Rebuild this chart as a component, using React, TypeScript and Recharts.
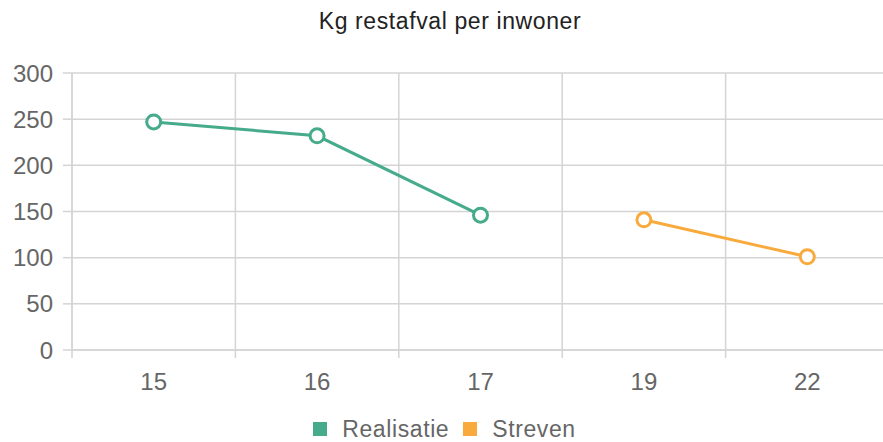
import { LineChart, Line, XAxis, YAxis, CartesianGrid, Legend } from 'recharts'

const YEARS = ['15', '16', '17', '19', '22']
const REALISATIE = [247, 232, 146, null, null]
const STREVEN = [null, null, null, 141, 101]
const Y_TICKS = [0, 50, 100, 150, 200, 250, 300]

const GREEN = '#45ab8b'
const ORANGE = '#f9aa3c'
const GRID = '#d4d4d4'
const FONT = '"Liberation Sans", Arial, sans-serif'

// each year sits in the middle of its slot, grid lines go on the slot edges
const data = YEARS.map((year, i) => ({
  slot: i + 0.5,
  year,
  realisatie: REALISATIE[i],
  streven: STREVEN[i],
}))
const edges = YEARS.map((_, i) => i).concat(YEARS.length)
const middles = YEARS.map((_, i) => i + 0.5)

function LegendBox(props: any) {
  const items = props.payload || []
  return (
    <div style={{ display: 'flex', justifyContent: 'center', alignItems: 'center', fontFamily: FONT, fontSize: 23, lineHeight: '22px', letterSpacing: 0.6, color: '#666', paddingTop: 2 }}>
      {items.map((it: any) => (
        <span key={it.value} style={{ display: 'inline-flex', alignItems: 'center', margin: '0 7px' }}>
          <span style={{ display: 'inline-block', width: 14, height: 14, background: it.color, marginRight: 15 }} />
          {it.value}
        </span>
      ))}
    </div>
  )
}

export default function App() {
  return (
    <div style={{ position: 'absolute', left: 0, top: 0, width: 883, height: 442, overflow: 'hidden', background: '#fff', fontFamily: FONT }}>
      <div style={{ position: 'absolute', top: 7, left: 0, width: 900, textAlign: 'center', fontSize: 23, lineHeight: '28px', letterSpacing: 0.6, color: '#222' }}>
        Kg restafval per inwoner
      </div>
      <LineChart width={889} height={442} data={data} margin={{ top: 73, right: 0, bottom: 0, left: 0 }}>
        <CartesianGrid stroke={GRID} strokeWidth={1.5} />
        <XAxis
          type="number"
          dataKey="slot"
          domain={[0, YEARS.length]}
          ticks={edges}
          tick={() => <g />}
          tickSize={8}
          height={8}
          stroke={GRID}
          strokeWidth={1.5}
        />
        <XAxis
          xAxisId="labels"
          type="number"
          dataKey="slot"
          domain={[0, YEARS.length]}
          ticks={middles}
          tickFormatter={(v: number) => YEARS[Math.floor(v)]}
          axisLine={false}
          tickLine={false}
          tickSize={0}
          tickMargin={15}
          height={58}
          tick={{ fill: '#666', fontSize: 24, fontFamily: FONT }}
        />
        <YAxis
          domain={[0, 300]}
          ticks={Y_TICKS}
          width={72}
          tickSize={9}
          tickMargin={10}
          stroke={GRID}
          strokeWidth={1.5}
          tick={{ fill: '#666', fontSize: 24, fontFamily: FONT }}
        />
        <Legend verticalAlign="bottom" content={LegendBox} wrapperStyle={{ height: 26 }} />
        <Line
          name="Realisatie"
          dataKey="realisatie"
          stroke={GREEN}
          strokeWidth={3}
          dot={{ r: 7, fill: '#fff', stroke: GREEN, strokeWidth: 3 }}
          isAnimationActive={false}
        />
        <Line
          name="Streven"
          dataKey="streven"
          stroke={ORANGE}
          strokeWidth={3}
          dot={{ r: 7, fill: '#fff', stroke: ORANGE, strokeWidth: 3 }}
          isAnimationActive={false}
        />
      </LineChart>
    </div>
  )
}
